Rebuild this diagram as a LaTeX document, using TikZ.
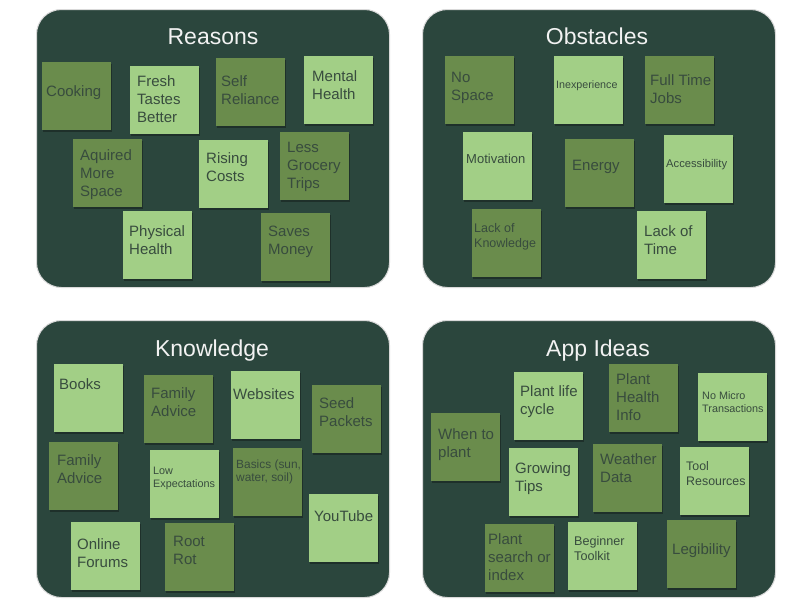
\documentclass[tikz,border=0pt]{standalone}
\usepackage{fontspec}
\setmainfont{Liberation Sans}
\usetikzlibrary{shadows}
\definecolor{panelc}{HTML}{2B463D}
\definecolor{notedark}{HTML}{6A8C4C}
\definecolor{notelight}{HTML}{A2CF86}
\definecolor{notetext}{HTML}{384C3E}
\definecolor{titlec}{HTML}{F2F2F2}
\tikzset{
  panel/.style={fill=panelc, draw=black!15, line width=1pt, rounded corners=25pt, anchor=north west, inner sep=0pt},
  notebase/.style={anchor=north west, inner sep=0pt, minimum width=69pt, minimum height=68pt,
     drop shadow={shadow xshift=1pt, shadow yshift=-2pt, opacity=0.3, fill=black}},
  dnote/.style={notebase, fill=notedark},
  lnote/.style={notebase, fill=notelight},
  ntext/.style={anchor=base west, inner sep=0pt, text=notetext},
  tbig/.style={ntext, font=\fontsize{15}{18}\selectfont},
  ptitle/.style={anchor=base, inner sep=0pt, text=titlec, font=\fontsize{23}{26}\selectfont}
}
\newcommand\mynote[8]{%
  \node[#2] (#1) at (#3,#4) {};
  \node[#5] (#1-t) at (#6,#7) {\begin{tabular}[t]{@{}l@{}}#8\end{tabular}};
}
\begin{document}
\begin{tikzpicture}[x=1pt,y=-1pt]
\useasboundingbox (0,0) rectangle (794,613);
\fill[white] (0,0) rectangle (794,613);
% panels
\node[panel, minimum width=353pt, minimum height=278pt] (reasons) at (36,9) {};
\node[panel, minimum width=353pt, minimum height=278pt] (obstacles) at (422,9) {};
\node[panel, minimum width=353pt, minimum height=277pt] (knowledge) at (36,320) {};
\node[panel, minimum width=353pt, minimum height=277pt] (appideas) at (422,320) {};
\node[ptitle] (reasons-title) at (213,44) {Reasons};
\node[ptitle] (obstacles-title) at (597,44) {Obstacles};
\node[ptitle] (knowledge-title) at (212,356) {Knowledge};
\node[ptitle] (appideas-title) at (598,356) {App Ideas};
% Reasons
\mynote{cook}{dnote}{42}{62}{tbig}{46}{96}{Cooking}
\mynote{fresh}{lnote}{130}{66}{tbig}{137}{86}{Fresh\\Tastes\\Better}
\mynote{self}{dnote}{216}{58}{tbig}{221}{86}{Self\\Reliance}
\mynote{mental}{lnote}{304}{56}{tbig}{312}{81}{Mental\\Health}
\mynote{aquired}{dnote}{73}{139}{tbig}{80}{160}{Aquired\\More\\Space}
\mynote{rising}{lnote}{199}{140}{tbig}{206}{163}{Rising\\Costs}
\mynote{less}{dnote}{280}{132}{tbig}{287}{152}{Less\\Grocery\\Trips}
\mynote{phys}{lnote}{123}{211}{tbig}{129}{236}{Physical\\Health}
\mynote{saves}{dnote}{261}{213}{tbig}{268}{236}{Saves\\Money}
% Obstacles
\mynote{nospace}{dnote}{445}{56}{tbig}{451}{82}{No\\Space}
\mynote{inexp}{lnote}{554}{56}{ntext,font=\fontsize{10.7}{13}\selectfont}{556}{88}{Inexperience}
\mynote{fulltime}{dnote}{645}{56}{tbig}{650}{85}{Full Time\\Jobs}
\mynote{motiv}{lnote}{463}{132}{ntext,font=\fontsize{13}{15}\selectfont}{466}{163.5}{Motivation}
\mynote{energy}{dnote}{565}{139}{tbig}{572}{170}{Energy}
\mynote{access}{lnote}{664}{135}{ntext,font=\fontsize{11.2}{13}\selectfont}{666}{167}{Accessibility}
\mynote{lackknow}{dnote}{472}{209}{ntext,font=\fontsize{12.5}{14.5}\selectfont}{474}{232.5}{Lack of\\Knowledge}
\mynote{lacktime}{lnote}{637}{211}{tbig}{644}{236}{Lack of\\Time}
% Knowledge
\mynote{books}{lnote}{54}{364}{tbig}{59}{389}{Books}
\mynote{famA}{dnote}{144}{375}{tbig}{151}{398}{Family\\Advice}
\mynote{websites}{lnote}{231}{371}{tbig}{233}{399}{Websites}
\mynote{seed}{dnote}{312}{385}{tbig}{319}{408}{Seed\\Packets}
\mynote{famB}{dnote}{49}{442}{tbig}{57}{465}{Family\\Advice}
\mynote{lowexp}{lnote}{150}{450}{ntext,font=\fontsize{10.8}{13}\selectfont}{153}{474}{Low\\Expectations}
\mynote{basics}{dnote}{233}{448}{ntext,font=\fontsize{11.9}{13.7}\selectfont}{236}{468}{Basics (sun,\\water, soil)}
\mynote{youtube}{lnote}{309}{494}{tbig}{314}{521}{YouTube}
\mynote{online}{lnote}{71}{522}{tbig}{77}{549}{Online\\Forums}
\mynote{rootrot}{dnote}{165}{523}{tbig}{173}{546}{Root\\Rot}
% App Ideas
\mynote{when}{dnote}{431}{413}{tbig}{438}{439}{When to\\plant}
\mynote{lifecycle}{lnote}{514}{372}{tbig}{520}{396}{Plant life\\cycle}
\mynote{health}{dnote}{609}{364}{tbig}{616}{384}{Plant\\Health\\Info}
\mynote{nomicro}{lnote}{698}{373}{ntext,font=\fontsize{10.8}{13}\selectfont}{702}{399}{No Micro\\Transactions}
\mynote{growing}{lnote}{509}{448}{tbig}{515}{473}{Growing\\Tips}
\mynote{weather}{dnote}{593}{444}{tbig}{600}{464}{Weather\\Data}
\mynote{tool}{lnote}{680}{447}{ntext,font=\fontsize{12.4}{15}\selectfont}{686}{470.5}{Tool\\Resources}
\mynote{search}{dnote}{485}{524}{tbig}{488}{544}{Plant\\search or\\index}
\mynote{beginner}{lnote}{568}{522}{ntext,font=\fontsize{12.6}{14.7}\selectfont}{574}{545.5}{Beginner\\Toolkit}
\mynote{legib}{dnote}{667}{520}{tbig}{672}{554}{Legibility}
\end{tikzpicture}
\end{document}
